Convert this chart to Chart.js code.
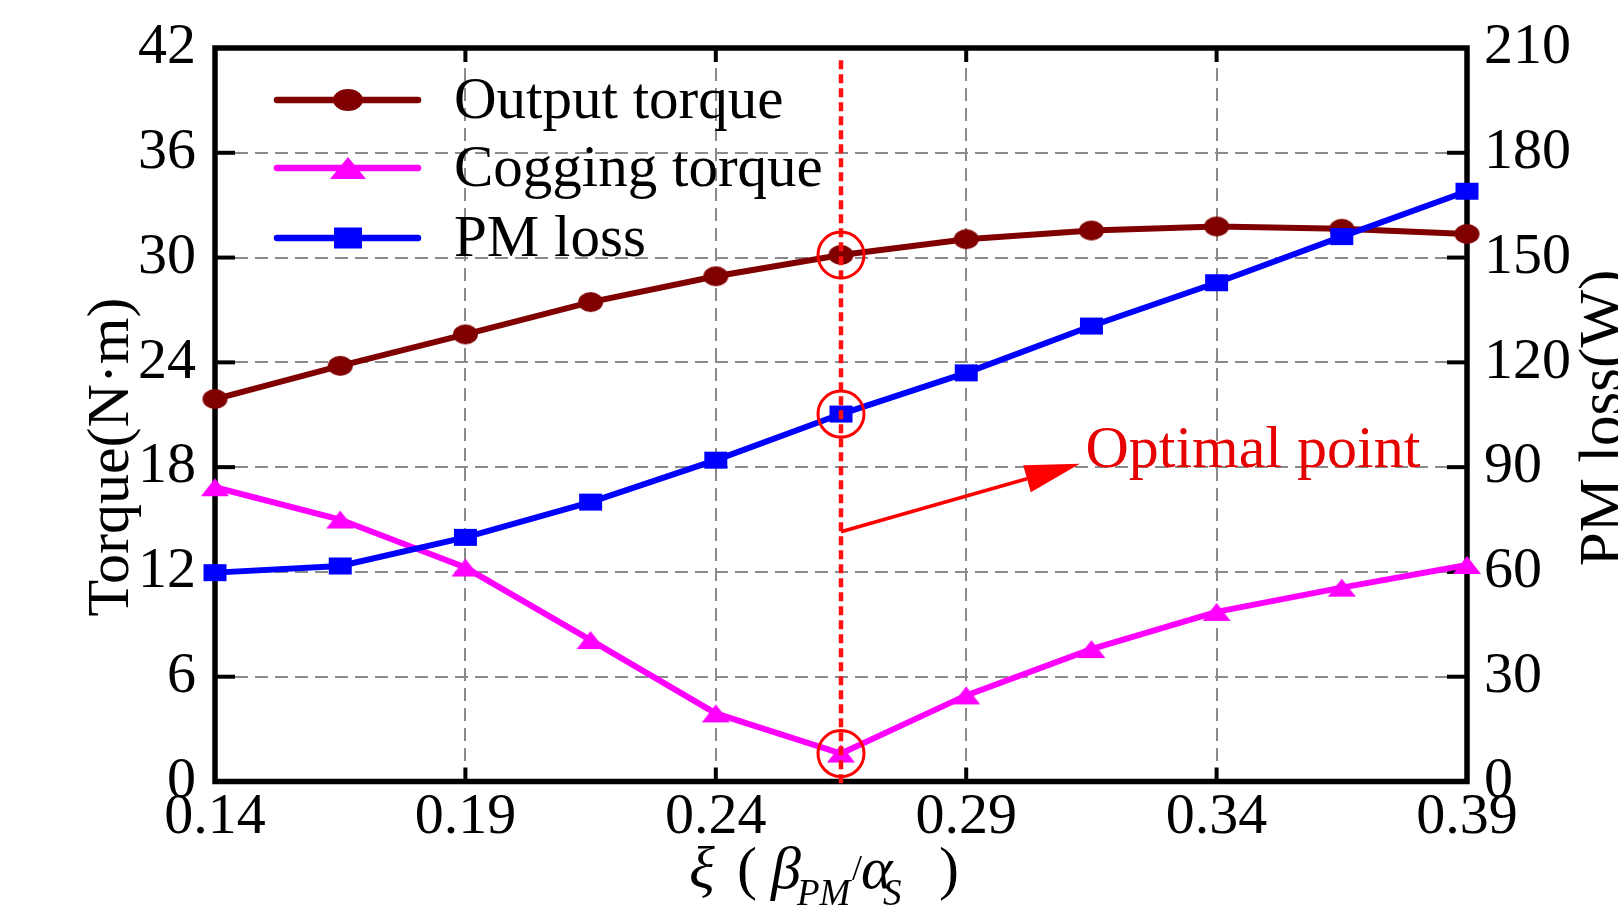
<!DOCTYPE html>
<html><head><meta charset="utf-8">
<script src="https://cdn.jsdelivr.net/npm/chart.js@4/dist/chart.umd.min.js"></script>
<style>html,body{margin:0;padding:0;background:#fff;overflow:hidden}#wrap{width:1618px;height:906px;position:relative}canvas{display:block}</style>
</head><body><div id="wrap"><canvas id="c" width="1618" height="906"></canvas></div>
<script>
// ---- data ----
const xValues = [0.14, 0.165, 0.19, 0.215, 0.24, 0.265, 0.29, 0.315, 0.34, 0.365, 0.39];
const outputTorque = [21.9, 23.8, 25.6, 27.45, 28.93, 30.15, 31.05, 31.55, 31.78, 31.65, 31.35];
const coggingTorque = [16.85, 15.0, 12.25, 8.1, 3.9, 1.6, 4.93, 7.58, 9.71, 11.1, 12.4];
const pmLoss = [59.8, 61.7, 69.9, 80.0, 92.0, 105.2, 117.0, 130.4, 142.8, 156.0, 169.0];
const xTicks = [0.14, 0.19, 0.24, 0.29, 0.34, 0.39];
const torqueTicks = [0, 6, 12, 18, 24, 30, 36, 42];
const lossTicks = [0, 30, 60, 90, 120, 150, 180, 210];
const seriesNames = ['Output torque', 'Cogging torque', 'PM loss'];
const leftTitle = 'Torque(N\u00b7m)';
const rightTitle = 'PM loss(W)';
const optimalIndex = 5;
const annotationText = 'Optimal point';
const arrowFrom = [0.265, 14.3];   // [x, torque]
const arrowTo = [0.3127, 18.2];
const annotationAt = [0.3138, 18.0];
const dottedTop = 41.3;

const FONT = '"Liberation Serif", "Times New Roman", serif';
const colors = ['#800000', '#ff00ff', '#0000ff'];

function markerCanvas(shape, w, h, color) {
  const c = document.createElement('canvas');
  c.width = Math.ceil(w) + 2; c.height = Math.ceil(h) + 2;
  const g = c.getContext('2d');
  g.fillStyle = color;
  const cx = c.width / 2, cy = c.height / 2;
  g.beginPath();
  if (shape === 'circle') g.ellipse(cx, cy, w / 2, h / 2, 0, 0, Math.PI * 2);
  else if (shape === 'triangle') { g.moveTo(cx, cy - h / 2); g.lineTo(cx + w / 2, cy + h / 2); g.lineTo(cx - w / 2, cy + h / 2); g.closePath(); }
  else g.rect(cx - w / 2, cy - h / 2, w, h);
  g.fill();
  return c;
}
const dataMarkers = [
  markerCanvas('circle', 25, 20, colors[0]),
  markerCanvas('triangle', 28, 18, colors[1]),
  markerCanvas('rect', 23, 17, colors[2])
];
const legendMarkers = [
  markerCanvas('circle', 30, 22, colors[0]),
  markerCanvas('triangle', 36, 22, colors[1]),
  markerCanvas('rect', 28, 21, colors[2])
];

function pts(ys) { return xValues.map((x, i) => ({x: x, y: ys[i]})); }

const decor = {
  id: 'decor',
  beforeDatasetsDraw(chart) {
    const {ctx, chartArea: a, scales} = chart;
    ctx.save();
    ctx.strokeStyle = '#000';
    ctx.lineWidth = 4;
    const ln = (x1, y1, x2, y2) => { ctx.beginPath(); ctx.moveTo(x1, y1); ctx.lineTo(x2, y2); ctx.stroke(); };
    torqueTicks.forEach(v => { const y = scales.y.getPixelForValue(v); ln(a.left, y, a.left + 20, y); });
    lossTicks.forEach(v => { const y = scales.y1.getPixelForValue(v); ln(a.right - 20, y, a.right, y); });
    xTicks.forEach(v => { const x = scales.x.getPixelForValue(v); ln(x, a.bottom - 14, x, a.bottom); ln(x, a.top, x, a.top + 14); });
    ctx.lineWidth = 5.5;
    ctx.strokeRect(a.left, a.top, a.right - a.left, a.bottom - a.top);
    ctx.restore();
  },
  afterDatasetsDraw(chart) {
    const {ctx, chartArea: a, scales} = chart;
    const sx = scales.x, sy = scales.y, sy1 = scales.y1;
    ctx.save();
    // dotted vertical line
    const ox = sx.getPixelForValue(xValues[optimalIndex]);
    ctx.strokeStyle = '#ff1010';
    ctx.lineWidth = 4.5;
    ctx.setLineDash([9, 5]);
    ctx.beginPath(); ctx.moveTo(ox, sy.getPixelForValue(dottedTop)); ctx.lineTo(ox, a.bottom + 4); ctx.stroke();
    ctx.setLineDash([]);
    // circles
    ctx.lineWidth = 3;
    ctx.strokeStyle = '#ff0000';
    [sy.getPixelForValue(outputTorque[optimalIndex]), sy.getPixelForValue(coggingTorque[optimalIndex]), sy1.getPixelForValue(pmLoss[optimalIndex])].forEach(py => {
      ctx.beginPath(); ctx.arc(ox, py, 23, 0, Math.PI * 2); ctx.stroke();
    });
    // arrow
    const x1 = sx.getPixelForValue(arrowFrom[0]), y1 = sy.getPixelForValue(arrowFrom[1]);
    const x2 = sx.getPixelForValue(arrowTo[0]), y2 = sy.getPixelForValue(arrowTo[1]);
    const ang = Math.atan2(y2 - y1, x2 - x1);
    const hl = 55, hw = 14;
    const bx = x2 - hl * Math.cos(ang), by = y2 - hl * Math.sin(ang);
    ctx.strokeStyle = '#ff0000'; ctx.fillStyle = '#ff0000';
    ctx.lineWidth = 3.5;
    ctx.beginPath(); ctx.moveTo(x1, y1); ctx.lineTo(bx, by); ctx.stroke();
    ctx.beginPath();
    ctx.moveTo(x2, y2);
    ctx.lineTo(bx + hw * Math.sin(ang), by - hw * Math.cos(ang));
    ctx.lineTo(bx - hw * Math.sin(ang), by + hw * Math.cos(ang));
    ctx.closePath(); ctx.fill();
    // annotation text
    ctx.fillStyle = '#e60000';
    ctx.font = '60px ' + FONT;
    ctx.textAlign = 'left'; ctx.textBaseline = 'alphabetic';
    ctx.fillText(annotationText, sx.getPixelForValue(annotationAt[0]), sy.getPixelForValue(annotationAt[1]));
    // legend
    const rows = [52, 120, 190];
    chart.data.datasets.forEach((ds, i) => {
      const cy = a.top + rows[i];
      ctx.strokeStyle = ds.borderColor;
      ctx.lineWidth = 6.5; ctx.lineCap = 'round';
      ctx.beginPath(); ctx.moveTo(a.left + 62, cy); ctx.lineTo(a.left + 203, cy); ctx.stroke();
      const m = legendMarkers[i];
      ctx.drawImage(m, a.left + 133 - m.width / 2, cy - m.height / 2);
      ctx.fillStyle = '#000';
      ctx.font = '59px ' + FONT;
      ctx.fillText(ds.label, a.left + 239, cy + 18);
    });
    ctx.restore();
  },
  afterDraw(chart) {
    const {ctx, chartArea: a} = chart;
    ctx.save();
    ctx.fillStyle = '#000';
    ctx.textBaseline = 'alphabetic';
    // left title
    ctx.save();
    ctx.translate(128, 457);
    ctx.rotate(-Math.PI / 2);
    ctx.textAlign = 'center';
    ctx.font = '60px ' + FONT;
    ctx.fillText(leftTitle, 0, 0);
    ctx.restore();
    // right title (clipped at canvas edge)
    ctx.save();
    ctx.translate(1621, 418);
    ctx.rotate(-Math.PI / 2);
    ctx.textAlign = 'center';
    ctx.font = '61px ' + FONT;
    ctx.fillText(rightTitle, 0, 0);
    ctx.restore();
    // x title
    const x0 = (a.left + a.right) / 2 - 144;
    const by = a.bottom + 106.5;
    const parts = [
      ['\u03be', 'italic 60px', -8, 0],
      ['(', '60px', 40, 0],
      ['\u03b2', 'italic 60px', 74, 0],
      ['PM', 'italic 37px', 100, 17],
      ['/', '36px', 155, -8],
      ['\u03b1', 'italic 60px', 164, 0],
      ['S', 'italic 37px', 186, 17],
      [')', '60px', 242, 0]
    ];
    ctx.textAlign = 'left';
    parts.forEach(p => { ctx.font = p[1] + ' ' + FONT; ctx.fillText(p[0], x0 + p[2], by + p[3]); });
    ctx.restore();
  }
};

const tickFont = {family: FONT, size: 58, lineHeight: 1};

new Chart(document.getElementById('c'), {
  type: 'line',
  data: {
    datasets: [
      {label: seriesNames[0], data: pts(outputTorque), yAxisID: 'y', borderColor: colors[0], backgroundColor: colors[0], borderWidth: 6, pointStyle: dataMarkers[0], pointRadius: 10, tension: 0, clip: false, order: 3},
      {label: seriesNames[1], data: pts(coggingTorque), yAxisID: 'y', borderColor: colors[1], backgroundColor: colors[1], borderWidth: 6, pointStyle: dataMarkers[1], pointRadius: 10, tension: 0, clip: false, order: 2},
      {label: seriesNames[2], data: pts(pmLoss), yAxisID: 'y1', borderColor: colors[2], backgroundColor: colors[2], borderWidth: 6, pointStyle: dataMarkers[2], pointRadius: 10, tension: 0, clip: false, order: 1}
    ]
  },
  options: {
    responsive: false,
    animation: false,
    layout: {padding: {top: 47, left: 0, right: 0, bottom: 0}},
    plugins: {legend: {display: false}, tooltip: {enabled: false}},
    scales: {
      x: {
        type: 'linear', min: 0.14, max: 0.39,
        afterBuildTicks: s => { s.ticks = xTicks.map(v => ({value: v})); },
        afterFit: s => { s.height = 124.5; },
        grid: {color: '#8a8a8a', lineWidth: 2, drawTicks: false},
        border: {display: false, dash: [13, 7]},
        ticks: {font: tickFont, color: '#000', padding: 7, maxRotation: 0, autoSkip: false, callback: v => Number(v).toFixed(2)}
      },
      y: {
        type: 'linear', position: 'left', min: 0, max: 42,
        afterBuildTicks: s => { s.ticks = torqueTicks.map(v => ({value: v})); },
        afterFit: s => { s.width = 215; },
        grid: {color: '#8a8a8a', lineWidth: 2, drawTicks: false},
        border: {display: false, dash: [13, 7]},
        ticks: {font: tickFont, color: '#000', padding: 19, callback: v => String(v)}
      },
      y1: {
        type: 'linear', position: 'right', min: 0, max: 210,
        afterBuildTicks: s => { s.ticks = lossTicks.map(v => ({value: v})); },
        afterFit: s => { s.width = 151; },
        grid: {display: false, drawTicks: false},
        border: {display: false},
        ticks: {font: tickFont, color: '#000', padding: 17, callback: v => String(v)}
      }
    }
  },
  plugins: [decor]
});
</script>
</body></html>
